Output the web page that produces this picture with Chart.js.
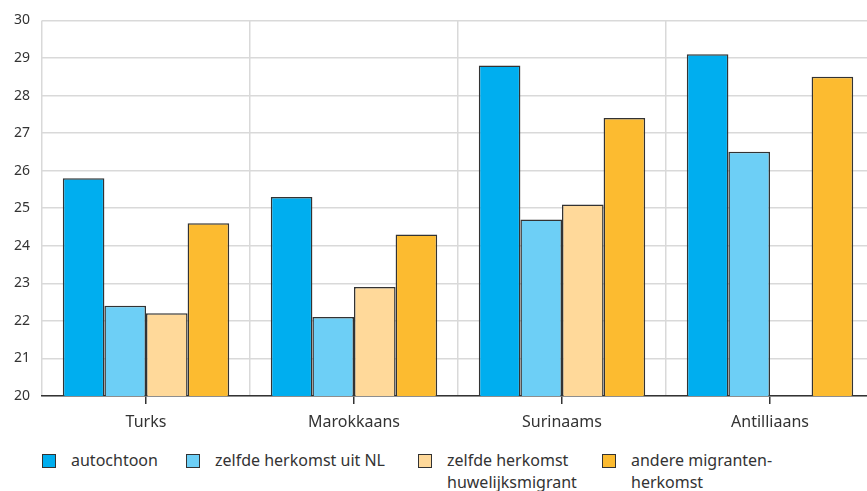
<!DOCTYPE html>
<html>
<head>
<meta charset="utf-8">
<script src="https://cdn.jsdelivr.net/npm/chart.js@4.4.1/dist/chart.umd.min.js"></script>
<style>
    html, body { margin: 0; padding: 0; background: #fff; overflow: hidden; }
    #wrap { position: relative; width: 875px; height: 440px; }
    #legend { position: absolute; left: 42px; top: 452px; font-family: "Noto Sans", sans-serif; font-size: 16px; color: #333; display: flex; }
    #legend .item { display: flex; align-items: flex-start; }
    #legend .box { width: 12px; height: 12px; border: 1.5px solid #333; margin: 2px 15px 0 0; flex: none; }
    #legend .txt { line-height: 22px; margin-top: -3px; }
</style>
</head>
<body>
<div id="wrap"><canvas id="chart"></canvas></div>
<div id="legend"></div>
<script>
// categorieën en reeksen
const categories = ['Turks', 'Marokkaans', 'Surinaams', 'Antilliaans'];
const seriesNames = [
    ['autochtoon'],
    ['zelfde herkomst uit NL'],
    ['zelfde herkomst', 'huwelijksmigrant'],
    ['andere migranten-', 'herkomst']
];
const autochtoon = [25.8, 25.3, 28.8, 29.1];
const zelfdeNL = [22.4, 22.1, 24.7, 26.5];
const huwelijksmigrant = [22.2, 22.9, 25.1, null];
const andereHerkomst = [24.6, 24.3, 27.4, 28.5];
const yTicks = [20, 21, 22, 23, 24, 25, 26, 27, 28, 29, 30];

const colors = ['#00aeef', '#6dcff6', '#ffd99a', '#fcbb30'];
const itemWidths = [144, 232, 184, 200];

const values = [autochtoon, zelfdeNL, huwelijksmigrant, andereHerkomst];

const ctx = document.getElementById('chart');
new Chart(ctx, {
    type: 'bar',
    data: {
        labels: categories,
        datasets: values.map((v, i) => ({
            label: seriesNames[i].join(' '),
            data: v,
            backgroundColor: colors[i],
            borderColor: '#333',
            borderWidth: 1.5,
            borderSkipped: 'bottom',
            categoryPercentage: 0.8,
            barPercentage: 1.0
        }))
    },
    options: {
        responsive: true,
        maintainAspectRatio: false,
        animation: false,
        layout: { padding: { top: 18, right: 1, left: 0, bottom: 0 } },
        scales: {
            // streepjes onder de as, midden van elke categorie
            x2: {
                type: 'category',
                position: 'bottom',
                offset: true,
                grid: { offset: false, drawOnChartArea: false, tickLength: 8, color: '#333', lineWidth: 1.5 },
                ticks: { display: false },
                border: { display: true, color: '#333', width: 1.5 },
                afterFit: (s) => { s.height = 8; }
            },
            x: {
                position: 'bottom',
                offset: true,
                grid: { offset: true, color: '#d9d9d9', lineWidth: 1.5, drawTicks: false },
                border: { display: false },
                ticks: { color: '#333', padding: 9, font: { family: 'Noto Sans', size: 16 } },
                afterFit: (s) => { s.height = 36; }
            },
            y: {
                min: yTicks[0],
                max: yTicks[yTicks.length - 1],
                afterBuildTicks: (s) => { s.ticks = yTicks.map(v => ({ value: v })); },
                grid: { color: '#d9d9d9', lineWidth: 1.5, drawTicks: false },
                border: { display: false },
                ticks: { color: '#333', padding: 12, align: 'center', font: { family: 'Noto Sans', size: 14 } },
                afterFit: (s) => { s.width = 42; }
            }
        },
        plugins: {
            legend: { display: false },
            tooltip: { enabled: false }
        }
    }
});

// legenda in HTML (labels over twee regels)
const legend = document.getElementById('legend');
seriesNames.forEach((name, i) => {
    const item = document.createElement('div');
    item.className = 'item';
    item.style.width = itemWidths[i] + 'px';
    const box = document.createElement('div');
    box.className = 'box';
    box.style.background = colors[i];
    const txt = document.createElement('div');
    txt.className = 'txt';
    txt.innerHTML = name.join('<br>');
    item.appendChild(box);
    item.appendChild(txt);
    legend.appendChild(item);
});
</script>
</body>
</html>
